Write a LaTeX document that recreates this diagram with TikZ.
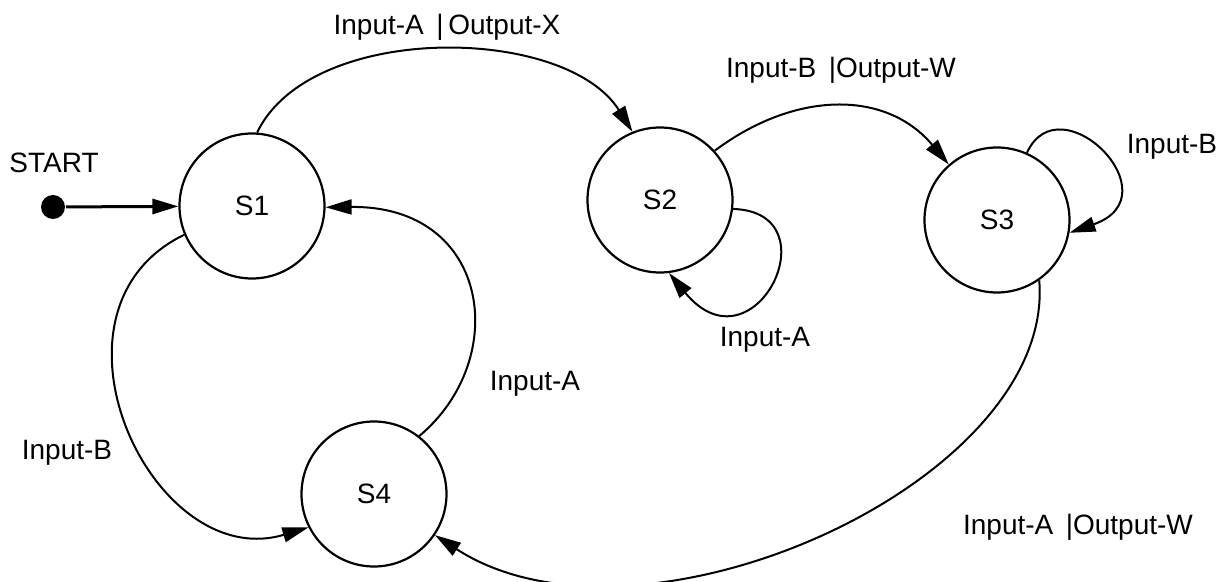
\documentclass[tikz,border=0pt]{standalone}
\usepackage{fontspec}
\setmainfont{Liberation Sans}
\usetikzlibrary{arrows.meta}

\begin{document}
\begin{tikzpicture}[x=0.5pt, y=-0.5pt, line width=1pt, >={Triangle[length=13pt, width=7.5pt]},
	state/.style={draw, circle, line width=1.1pt, minimum size=72.5pt, inner sep=0pt, font=\fontsize{14}{16}\selectfont},
	lbl/.style={inner sep=0pt, font=\fontsize{14}{16}\selectfont}]
	\useasboundingbox (0,0) rectangle (1227,582);
	\node[state] (s1) at (252,206) {S1};
	\node[state] (s2) at (660,200) {S2};
	\node[state] (s3) at (997,220) {S3};
	\node[state] (s4) at (374,494) {S4};
	\node[circle, fill, inner sep=0pt, minimum size=12pt] (start) at (53,207) {};
	\node[lbl] (startlbl) at (54,163) {START};
	\node[lbl] (l12) at (447,27) {Input-A \,|\,Output-X};
	\node[lbl] (l23) at (841,70) {Input-B \,|Output-W};
	\node[lbl] (l22) at (765,340) {Input-A};
	\node[lbl] (l33) at (1172,147) {Input-B};
	\node[lbl] (l41) at (535,384) {Input-A};
	\node[lbl] (l14) at (67,453) {Input-B};
	\node[lbl] (l34) at (1078,527) {Input-A \,|Output-W};
	\draw[->, line width=1.5pt] (start) -- (s1);
	\draw[->] (s1.86) .. controls +(53,-111) and +(-67,-107) .. (s2.112);
	\draw[->] (s2.42) .. controls +(80,-60) and +(-63,-75) .. (s3.131);
	\draw[->] (s2.-7) .. controls +(102,3) and +(85,103) .. (s2.-83);
	\draw[->] (s3.66) .. controls +(33,-72) and +(106,-37) .. (s3.-10);
	\draw[->] (s3.-55) .. controls +(17,202) and +(205,133) .. (s4.-34);
	\draw[->] (s4.52) .. controls +(92,-77) and +(165,-2) .. (s1.-1);
	\draw[->] (s1.203) .. controls +(-155,75) and +(-157,47) .. (s4.207);
\end{tikzpicture}
\end{document}
